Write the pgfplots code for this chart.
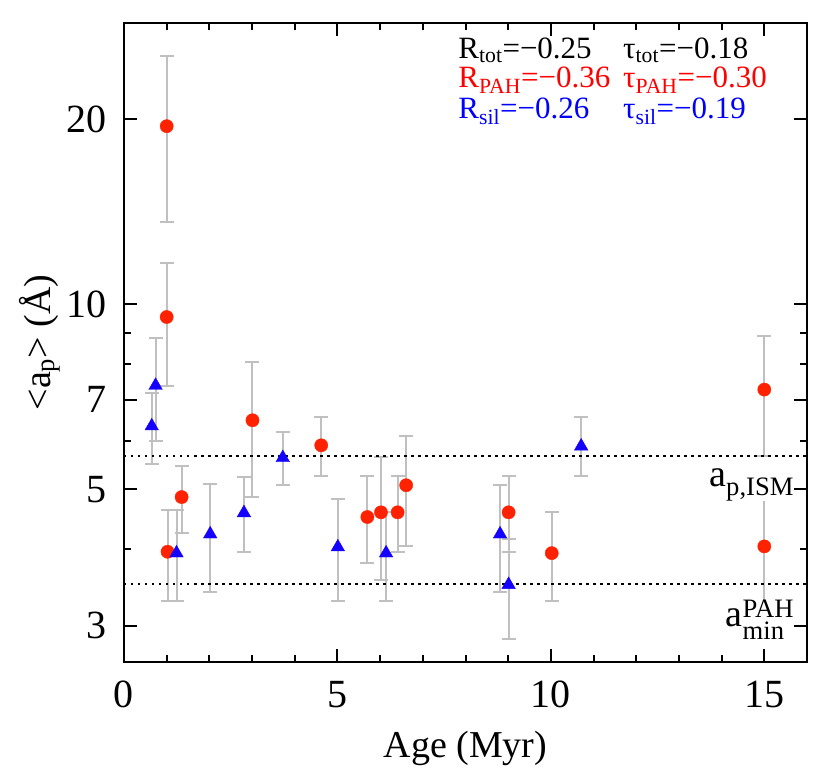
\documentclass[border=0pt]{standalone}
\usepackage{fontspec}
\setmainfont{Liberation Serif}
\usepackage{amsmath}
\usepackage{pgfplots}
\usepackage{pgfplotstable}
\pgfplotsset{compat=1.18}
\definecolor{pahred}{RGB}{255,34,0}
\definecolor{silblue}{RGB}{20,0,255}
\definecolor{errgray}{RGB}{192,192,192}
\definecolor{txtred}{RGB}{255,0,0}
\definecolor{txtblue}{RGB}{0,0,255}

\pgfplotstableread{
x y ep em
1.00 19.5 5.9 5.9
1.00 9.54 2.12 2.18
1.02 3.96 0.67 0.67
1.35 4.86 0.61 0.61
3.01 6.48 1.59 1.62
4.62 5.90 0.66 0.64
5.70 4.51 0.75 0.72
6.02 4.59 1.06 1.03
6.41 4.59 0.67 0.63
6.61 5.08 1.02 1.04
9.01 4.59 0.67 0.63
10.02 3.94 0.65 0.65
15.0 7.27 1.63 1.60
15.0 4.04 0.81 0.81
}\pahdata

\pgfplotstableread{
x y ep em
0.65 6.34 0.84 0.83
0.74 7.38 1.45 1.38
1.23 3.94 0.69 0.65
2.02 4.23 0.87 0.83
2.81 4.58 0.66 0.62
3.72 5.63 0.58 0.55
5.01 4.03 0.79 0.74
6.14 3.94 0.65 0.65
8.81 4.23 0.85 0.82
9.01 3.50 0.66 0.64
10.71 5.88 0.68 0.62
}\sildata

\begin{document}
\begin{tikzpicture}
\begin{axis}[
  scale only axis, width=683pt, height=639pt,
  clip mode=individual,
  ymode=log, xmin=0, xmax=16, ymin=2.62, ymax=28.7,
  xtick={0,5,10,15}, minor xtick={1,2,3,4,6,7,8,9,11,12,13,14,16},
  ytick={3,5,7,10,20}, yticklabels={3,5,7,10,20}, minor ytick={4,6,8,9},
  major tick length=13pt, minor tick length=7pt,
  every tick/.style={black, line width=2pt},
  axis line style={line width=2.5pt},
  /pgf/number format/assume math mode=true,
  tick label style={font=\fontsize{40}{42}\selectfont},
  xticklabel style={anchor=base, inner sep=0pt, yshift=-45pt},
  yticklabel style={anchor=east, inner sep=0pt, xshift=-17pt},
  errcap/.style={errgray, only marks, mark=-, mark size=7pt, mark options={line width=2pt, solid}, forget plot},
]
% error bars (vertical lines)
\addplot[errgray, line width=2pt, only marks, mark=none, forget plot,
  error bars/.cd, y dir=both, y explicit, error mark=none,
  error bar style={errgray, line width=2pt, solid}]
  table[x=x, y=y, y error plus=ep, y error minus=em]{\pahdata};
\addplot[errgray, line width=2pt, only marks, mark=none, forget plot,
  error bars/.cd, y dir=both, y explicit, error mark=none,
  error bar style={errgray, line width=2pt, solid}]
  table[x=x, y=y, y error plus=ep, y error minus=em]{\sildata};
% error caps
\addplot[errcap] table[x=x, y expr=\thisrow{y}+\thisrow{ep}]{\pahdata};
\addplot[errcap] table[x=x, y expr=\thisrow{y}-\thisrow{em}]{\pahdata};
\addplot[errcap] table[x=x, y expr=\thisrow{y}+\thisrow{ep}]{\sildata};
\addplot[errcap] table[x=x, y expr=\thisrow{y}-\thisrow{em}]{\sildata};
% reference lines
\addplot[black, line width=2.5pt, dash pattern=on 2.5pt off 4.5pt] coordinates {(0,5.67) (16,5.67)};
\addplot[black, line width=2.5pt, dash pattern=on 2.5pt off 4.5pt] coordinates {(0,3.51) (16,3.51)};
% markers
\addplot[only marks, mark=*, mark size=6.6pt, color=pahred, mark options={draw=pahred, fill=pahred}]
  table[x=x, y=y]{\pahdata};
\addplot[only marks, mark=triangle*, mark size=7.8pt, color=silblue, mark options={draw=silblue, fill=silblue}]
  table[x=x, y=y]{\sildata};
% annotations
\begin{scope}[every node/.style={inner sep=0pt, anchor=base west, font=\fontsize{31}{33}\selectfont}]
\node at (axis cs:7.83,25.1) {R$_{\text{tot}}$=−0.25};
\node at (axis cs:11.69,25.1) {τ$_{\text{tot}}$=−0.18};
\node[text=txtred] at (axis cs:7.83,22.5) {R$_{\text{PAH}}$=−0.36};
\node[text=txtred] at (axis cs:11.69,22.5) {τ$_{\text{PAH}}$=−0.30};
\node[text=txtblue] at (axis cs:7.83,20.07) {R$_{\text{sil}}$=−0.26};
\node[text=txtblue] at (axis cs:11.69,20.07) {τ$_{\text{sil}}$=−0.19};
\end{scope}
\node[inner sep=0pt, fill=white, anchor=base east, font=\fontsize{38}{40}\selectfont] at (axis cs:15.7,5.06) {a$_{\text{p,ISM}}$};
\node[inner sep=0pt, fill=white, anchor=base east, font=\fontsize{38}{40}\selectfont] at (axis cs:15.7,2.99) {a$^{\text{PAH}}_{\text{min}}$};
% axis labels
\node[anchor=base, font=\fontsize{38}{40}\selectfont] at (rel axis cs:0.5,0) [yshift=-95pt] {Age (Myr)};
\node[rotate=90, anchor=center, font=\fontsize{38}{40}\selectfont] at (rel axis cs:-0.123,0.5) {<a$_{\text{p}}$> (Å)};
\end{axis}
\pgfresetboundingbox
\useasboundingbox (-124pt,-110pt) rectangle (706pt,662pt);
\end{tikzpicture}
\end{document}
